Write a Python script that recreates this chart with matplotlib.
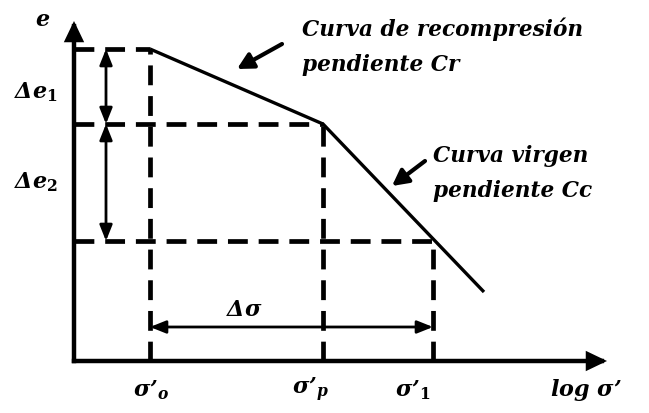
import matplotlib
matplotlib.use("Agg")
import matplotlib.pyplot as plt
from matplotlib.patches import FancyArrowPatch

plt.rcParams['mathtext.fontset'] = 'custom'
plt.rcParams['mathtext.bf'] = 'DejaVu Serif:bold:italic'
plt.rcParams['mathtext.it'] = 'DejaVu Serif:bold:italic'
plt.rcParams['mathtext.rm'] = 'DejaVu Serif:bold'

# Schematic e - log(sigma') consolidation curve (arbitrary units)
log_sigma = [1.52, 4.98, 8.2]          # sigma'_o, sigma'_p, end of virgin line
void_ratio = [6.24, 4.74, 1.38]
sigma_1 = 7.18
e_1 = 2.40
x_axis_end = 10.66
y_axis_end = 6.80

tick_names = [r"$\mathbf{σ’}_{\mathbf{o}}$", r"$\mathbf{σ’}_{\mathbf{p}}$", r"$\mathbf{σ’}_{\mathrm{1}}$"]
tick_offsets = [0.02, -0.24, -0.40]

fig = plt.figure(figsize=(6.49, 4.14), dpi=100)
ax = fig.add_axes([0, 0, 1, 1])
ax.set_xlim(-1.48, 11.5)
ax.set_ylim(-1.04, 7.24)
ax.axis('off')

k = 'black'

# Axes with arrowheads
for end in [(x_axis_end, 0), (0, y_axis_end)]:
    ax.add_patch(FancyArrowPatch((0, 0), end, arrowstyle='-|>,head_length=1.0,head_width=0.48',
                                 mutation_scale=10, lw=3.2, color=k, shrinkA=0, shrinkB=0,
                                 joinstyle='miter', capstyle='projecting'))

# Recompression and virgin compression branches
ax.plot(log_sigma, void_ratio, color=k, lw=2.4, solid_joinstyle='miter', solid_capstyle='butt')

# Dashed guides
dash = dict(color=k, lw=3.4, dashes=(4.2, 2.3))
ax.plot([0, log_sigma[0]], [void_ratio[0]] * 2, **dash)
ax.plot([0, log_sigma[1]], [void_ratio[1]] * 2, **dash)
ax.plot([0, sigma_1], [e_1] * 2, **dash)
ax.plot([log_sigma[0]] * 2, [0, void_ratio[0]], **dash)
ax.plot([log_sigma[1]] * 2, [0, void_ratio[1]], **dash)
ax.plot([sigma_1] * 2, [0, e_1], **dash)

# Delta e and Delta sigma dimension arrows
dim = dict(arrowstyle='<|-|>,head_length=0.95,head_width=0.38', mutation_scale=10,
           lw=2.0, color=k, shrinkA=0, shrinkB=0)
xe = 0.64
ax.add_patch(FancyArrowPatch((xe, void_ratio[0]), (xe, void_ratio[1]), **dim))
ax.add_patch(FancyArrowPatch((xe, void_ratio[1]), (xe, e_1), **dim))
ys = 0.68
ax.add_patch(FancyArrowPatch((log_sigma[0], ys), (sigma_1, ys), **dim))

# Callout arrows
call = dict(arrowstyle='-|>,head_length=0.95,head_width=0.5', mutation_scale=10,
            lw=3.0, color=k, shrinkA=0, shrinkB=0)
ax.add_patch(FancyArrowPatch((4.16, 6.34), (3.26, 5.84), **call))
ax.add_patch(FancyArrowPatch((7.02, 4.00), (6.36, 3.50), **call))

txt = dict(color=k, fontfamily='DejaVu Serif', fontweight='bold', fontstyle='italic', fontsize=15.6)
ax.text(4.56, 6.66, "Curva de recompresión", ha='left', va='center', **txt)
ax.text(4.56, 5.94, "pendiente Cr", ha='left', va='center', **txt)
ax.text(7.18, 4.12, "Curva virgen", ha='left', va='center', **txt)
ax.text(7.18, 3.42, "pendiente Cc", ha='left', va='center', **txt)

m = dict(color=k, fontsize=16, va='center', ha='center')
ax.text(-0.62, 6.84, r"$\mathbf{e}$", **m)
ax.text(-0.76, 5.40, r"$\mathbf{Δe}_{\mathrm{1}}$", **m)
ax.text(-0.76, 3.60, r"$\mathbf{Δe}_{\mathrm{2}}$", **m)
ax.text(3.40, 1.04, r"$\mathbf{Δσ}$", **m)
for xv, off, name in zip([log_sigma[0], log_sigma[1], sigma_1], tick_offsets, tick_names):
    ax.text(xv + off, -0.56, name, **m)
ax.text(10.24, -0.56, r"$\mathbf{log\ σ’}$", **m)

fig.savefig("out.png", dpi=100)
